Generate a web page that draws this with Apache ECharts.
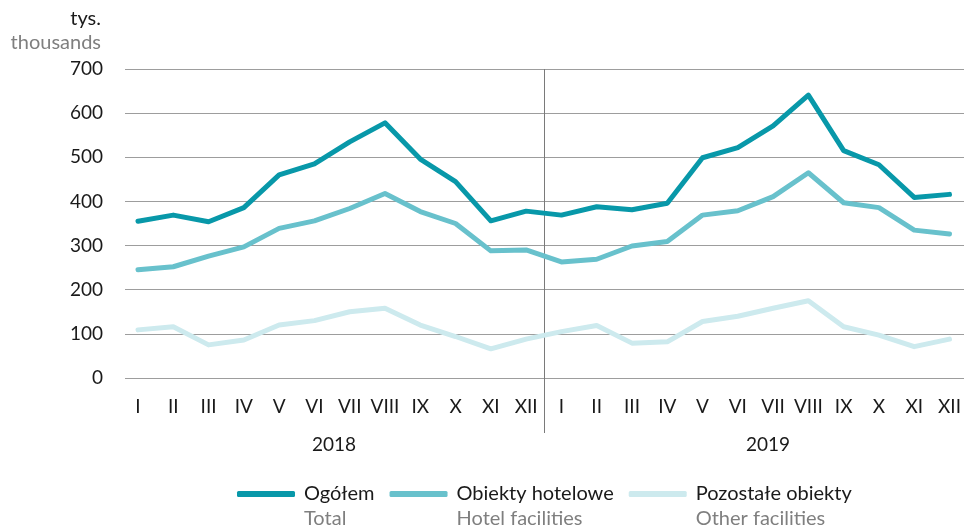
<!DOCTYPE html>
<html>
<head>
<meta charset="utf-8">
<script src="https://cdn.jsdelivr.net/npm/echarts@6/dist/echarts.min.js"></script>
<style>
    html, body { margin: 0; padding: 0; background: #fff; }
    #chart { width: 964px; height: 527px; }
</style>
</head>
<body>
<div id="chart"></div>
<script>
var months = ['I', 'II', 'III', 'IV', 'V', 'VI', 'VII', 'VIII', 'IX', 'X', 'XI', 'XII',
              'I', 'II', 'III', 'IV', 'V', 'VI', 'VII', 'VIII', 'IX', 'X', 'XI', 'XII'];
var years = ['2018', '2019'];
var yTicks = [0, 100, 200, 300, 400, 500, 600, 700];

// tys. / thousands
var total = [355, 369, 354, 386, 460, 485, 535, 578, 496, 445, 356, 378,
             369, 388, 381, 396, 499, 522, 571, 641, 515, 483, 409, 416];
var hotel = [245, 252, 276, 297, 339, 356, 384, 418, 377, 350, 288, 290,
             263, 269, 299, 309, 369, 379, 411, 465, 397, 386, 335, 326];
var other = [109, 116, 75, 86, 120, 130, 150, 158, 120, 94, 66, 88,
             105, 119, 79, 82, 128, 140, 158, 175, 116, 97, 71, 88];

var names = ['Ogółem', 'Obiekty hotelowe', 'Pozostałe obiekty'];
var namesEn = ['Total', 'Hotel facilities', 'Other facilities'];
var colors = ['#0898a9', '#68c1cc', '#cdeaee'];

var font = 'Lato, "Noto Sans", sans-serif';
var myChart = echarts.init(document.getElementById('chart'));

function lineSeries(idx, values) {
    return {
        name: names[idx],
        type: 'line',
        xAxisIndex: 1,
        yAxisIndex: 1,
        data: values,
        symbol: 'none',
        z: 10 - idx,
        lineStyle: { color: colors[idx], width: 5, cap: 'round', join: 'round' },
        itemStyle: { color: colors[idx] }
    };
}

var option = {
    animation: false,
    textStyle: { fontFamily: font },
    grid: [
        { left: 125, right: 0, top: 69, bottom: 149 },
        { left: 138, right: 8, top: 69, bottom: 149 }
    ],
    xAxis: [
        { type: 'category', gridIndex: 0, data: months, show: false },
        {
            type: 'category', gridIndex: 1, data: months, boundaryGap: false,
            axisLine: { show: false }, axisTick: { show: false },
            axisLabel: { color: '#1a1a1a', fontSize: 19, margin: 19, fontFamily: font, interval: 0 }
        }
    ],
    yAxis: [
        {
            type: 'value', gridIndex: 0, min: yTicks[0], max: yTicks[yTicks.length - 1], interval: 100,
            axisLine: { show: false }, axisTick: { show: false },
            axisLabel: { color: '#1a1a1a', fontSize: 19, margin: 22, fontFamily: font },
            splitLine: { lineStyle: { color: '#9d9d9d', width: 1 } }
        },
        {
            type: 'value', gridIndex: 1, min: yTicks[0], max: yTicks[yTicks.length - 1], interval: 100,
            show: false, splitLine: { show: false }
        }
    ],
    legend: {
        left: 232,
        top: 454,
        itemWidth: 58,
        itemHeight: 6,
        itemGap: 15,
        icon: 'roundRect',
        data: names,
        formatter: function (name) {
            return '{h| }\n{a|' + name + '}\n{b|' + namesEn[names.indexOf(name)] + '}';
        },
        textStyle: {
            fontFamily: font,
            padding: [0, 0, 0, 4],
            rich: {
                h: { fontSize: 20, lineHeight: 25 },
                a: { fontSize: 20, lineHeight: 25, color: '#1a1a1a', fontFamily: font },
                b: { fontSize: 20, lineHeight: 25, color: '#7f7f7f', fontFamily: font }
            }
        }
    },
    series: [lineSeries(0, total), lineSeries(1, hotel), lineSeries(2, other)]
};
myChart.setOption(option);

// linia rozdzielajaca lata i podpisy
var xa = myChart.convertToPixel({ xAxisIndex: 1 }, 11);
var xb = myChart.convertToPixel({ xAxisIndex: 1 }, 12);
var yTop = myChart.convertToPixel({ yAxisIndex: 1 }, 700);
var sepX = Math.round((xa + xb) / 2) + 0.5;

myChart.setOption({
    graphic: [
        {
            type: 'line', silent: true, z: 5,
            shape: { x1: sepX, y1: yTop, x2: sepX, y2: 433 },
            style: { stroke: '#7a7a7a', lineWidth: 1 }
        },
        {
            type: 'text', x: 101, y: 19,
            style: { text: 'tys.', fill: '#1a1a1a', font: '20px ' + font, textAlign: 'right', textVerticalAlign: 'middle' }
        },
        {
            type: 'text', x: 101, y: 43,
            style: { text: 'thousands', fill: '#7f7f7f', font: '20px ' + font, textAlign: 'right', textVerticalAlign: 'middle' }
        },
        {
            type: 'text', x: 334, y: 445,
            style: { text: years[0], fill: '#1a1a1a', font: '19px ' + font, textAlign: 'center', textVerticalAlign: 'middle' }
        },
        {
            type: 'text', x: 768, y: 445,
            style: { text: years[1], fill: '#1a1a1a', font: '19px ' + font, textAlign: 'center', textVerticalAlign: 'middle' }
        }
    ]
});
</script>
</body>
</html>
